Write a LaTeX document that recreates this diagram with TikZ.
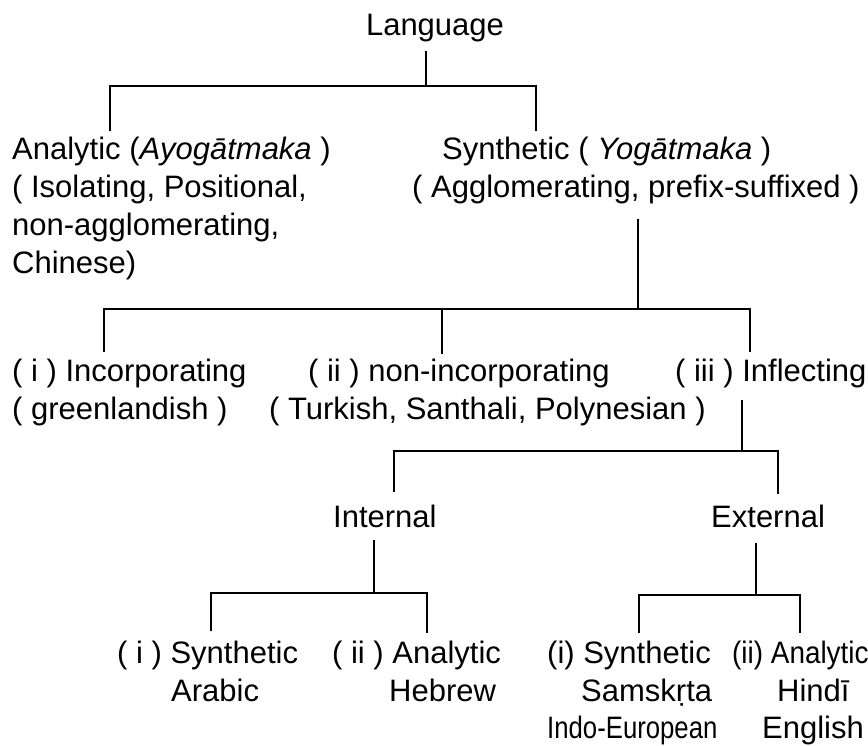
\documentclass[tikz,border=0pt]{standalone}
\usepackage{fontspec}
\setmainfont{Liberation Sans}
\begin{document}
\begin{tikzpicture}[x=1pt,y=-1pt,
  lbl/.style={inner sep=0pt, anchor=base west, font=\fontsize{31}{38}\selectfont},
  conn/.style={line width=1.3pt, black}]
\useasboundingbox (0,0) rectangle (868,746);
\clip (0,0) rectangle (868,746);
\fill[white] (0,0) rectangle (868,746);

% texts
\node[lbl, anchor=base] (lang) at (435,36) {Language};
\node[lbl] (ana1) at (12,160) {Analytic (\textit{Ayogātmaka} )};
\node[lbl] (ana2) at (12,198) {( Isolating, Positional,};
\node[lbl] (ana3) at (12,236) {non-agglomerating,};
\node[lbl] (ana4) at (12,274) {Chinese)};
\node[lbl] (syn1) at (442,160) {Synthetic ( \textit{Yogātmaka} )};
\node[lbl] (syn2) at (412,198) {( Agglomerating, prefix-suffixed )};

\node[lbl] (inc1) at (12,381) {( i ) Incorporating};
\node[lbl] (inc2) at (12,419) {( greenlandish )};
\node[lbl] (non1) at (308,381) {( ii ) non-incorporating};
\node[lbl] (non2) at (269,419) {( Turkish, Santhali, Polynesian )};
\node[lbl] (inf1) at (675,381) {( iii ) Inflecting};

\node[lbl] (int) at (333,527) {Internal};
\node[lbl] (ext) at (711,527) {External};

\node[lbl] (sa1) at (117,663) {( i ) Synthetic};
\node[lbl] (sa2) at (171,701) {Arabic};
\node[lbl] (sb1) at (332,663) {( ii ) Analytic};
\node[lbl] (sb2) at (389,701) {Hebrew};
\node[lbl] (ea1) at (547,663) {(i) Synthetic};
\node[lbl] (ea2) at (581,701) {Samskṛta};
\node[lbl] (ea3) at (547,738) {\scalebox{0.83}[1]{Indo-European}};
\node[lbl] (eb1) at (732,663) {\scalebox{0.9}[1]{(ii) Analytic}};
\node[lbl] (eb2) at (777,701) {Hindī};
\node[lbl] (eb3) at (762,738) {English};

% level 1
\coordinate (j1) at (426,86);
\coordinate (b1l) at (110,86);
\coordinate (b1r) at (536,86);
\draw[conn, shorten <=8pt] (j1 |- lang.south) -- (j1);
\draw[conn, shorten <=6pt, shorten >=6pt] (b1l |- ana1.north) -- (b1l) -- (b1r) -- (b1r |- syn1.north);

% level 2
\coordinate (j2) at (638,309);
\coordinate (b2l) at (104,309);
\coordinate (b2m) at (442,309);
\coordinate (b2r) at (750,309);
\draw[conn, shorten <=14pt] (j2 |- syn2.south) -- (j2);
\draw[conn, shorten <=6pt, shorten >=6pt] (b2l |- inc1.north) -- (b2l) -- (b2r) -- (b2r |- inf1.north);
\draw[conn, shorten >=4pt] (b2m) -- (b2m |- non1.north);

% level 3
\coordinate (j3) at (742,451);
\coordinate (b3l) at (394,451);
\coordinate (b3r) at (778,451);
\draw[conn, shorten <=12pt] (j3 |- inf1.south) -- (j3);
\draw[conn, shorten <=12pt, shorten >=10pt] (b3l |- int.north) -- (b3l) -- (b3r) -- (b3r |- ext.north);

% level 4
\coordinate (j4) at (374,593);
\coordinate (b4l) at (211,593);
\coordinate (b4r) at (427,593);
\draw[conn, shorten <=12pt] (j4 |- int.south) -- (j4);
\draw[conn, shorten <=9pt, shorten >=7pt] (b4l |- sa1.north) -- (b4l) -- (b4r) -- (b4r |- sb1.north);

\coordinate (j5) at (756,595);
\coordinate (b5l) at (639,595);
\coordinate (b5r) at (800,595);
\draw[conn, shorten <=15pt] (j5 |- ext.south) -- (j5);
\draw[conn, shorten <=7pt, shorten >=7pt] (b5l |- ea1.north) -- (b5l) -- (b5r) -- (b5r |- eb1.north);
\end{tikzpicture}
\end{document}
